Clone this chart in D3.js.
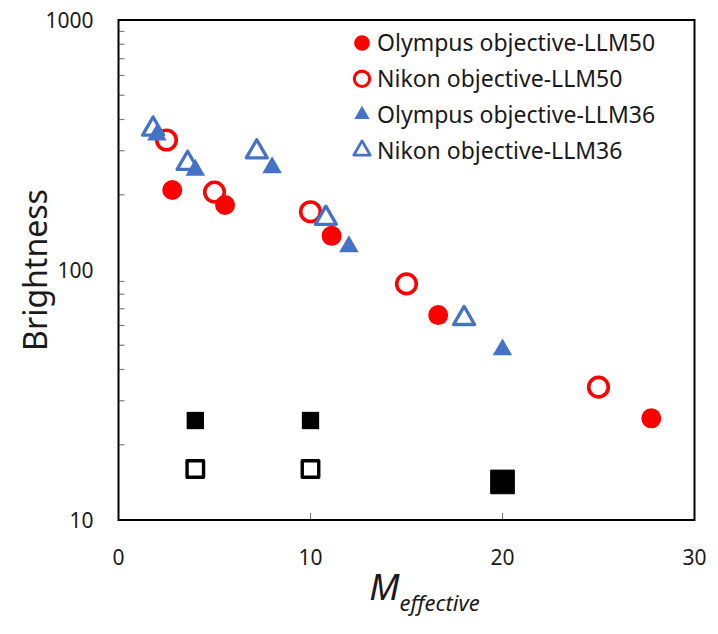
<!DOCTYPE html>
<html>
<head>
<meta charset="utf-8">
<script src="https://cdn.jsdelivr.net/npm/d3@7"></script>
<style>
  body { margin: 0; background: #fff; }
  text { font-family: "Noto Sans", "Open Sans", sans-serif; fill: #1a1a1a; }
</style>
</head>
<body>
<div id="chart"></div>
<script>
// values
var olympus50_x = [2.8, 5.55, 11.1, 16.65, 27.75];
var olympus50_y = [209, 182, 137, 66, 25.5];
var nikon50_x = [2.5, 5, 10, 15, 25];
var nikon50_y = [331, 205, 171, 88, 34];
var olympus36_x = [2, 4, 8, 12, 20];
var olympus36_y = [347, 251, 257, 124, 48];
var nikon36_x = [1.8, 3.6, 7.2, 10.8, 18];
var nikon36_y = [366, 267, 297, 161, 64];
var black_filled_x = [4, 10];
var black_filled_y = [25, 25];
var black_open_x = [4, 10];
var black_open_y = [16, 16];
var black_big_x = [20];
var black_big_y = [14.2];

var legend_labels = ["Olympus objective-LLM50", "Nikon objective-LLM50",
                     "Olympus objective-LLM36", "Nikon objective-LLM36"];
var x_ticks = [0, 10, 20, 30];
var y_ticks = [10, 100, 1000];

var svg_width = 718;
var svg_height = 634;
var margin = { top: 20, right: 23.5, bottom: 114, left: 118.5 };
var width = svg_width - margin.left - margin.right;
var height = svg_height - margin.top - margin.bottom;

var svg = d3.select("#chart")
    .append("svg")
    .attr("width", svg_width)
    .attr("height", svg_height)

var chart = svg.append("g")
    .attr("transform", `translate(${margin.left}, ${margin.top})`)

var x_scale = d3.scaleLinear().domain([0, 30]).range([0, width])
var y_scale = d3.scaleLog().domain([10, 1000]).range([height, 0])

// minor ticks on y (inside), major ticks on x (inside)
var minor = []
;[10, 100].forEach(function(dec) {
    for (var k = 2; k <= 9; k++) minor.push(dec * k)
})
chart.selectAll(".ytick")
    .data(minor)
    .enter()
    .append("line")
    .attr("x1", 0).attr("x2", 6)
    .attr("y1", d => y_scale(d)).attr("y2", d => y_scale(d))
    .attr("stroke", "#7f7f7f")
    .attr("stroke-width", 1.2)

chart.selectAll(".xtick")
    .data(x_ticks.slice(1, 3))
    .enter()
    .append("line")
    .attr("x1", d => x_scale(d)).attr("x2", d => x_scale(d))
    .attr("y1", height).attr("y2", height - 7)
    .attr("stroke", "#7f7f7f")
    .attr("stroke-width", 1.2)

// frame
chart.append("rect")
    .attr("width", width)
    .attr("height", height)
    .attr("fill", "none")
    .attr("stroke", "#000")
    .attr("stroke-width", 2)

// tick labels
chart.selectAll(".xlab")
    .data(x_ticks)
    .enter()
    .append("text")
    .attr("x", d => x_scale(d))
    .attr("y", height + 45)
    .attr("text-anchor", "middle")
    .style("font-size", "21px")
    .text(d => d)

chart.selectAll(".ylab")
    .data(y_ticks)
    .enter()
    .append("text")
    .attr("x", -25)
    .attr("y", d => y_scale(d))
    .attr("dy", "0.36em")
    .attr("text-anchor", "end")
    .style("font-size", "21px")
    .text(d => d)

// axis titles
svg.append("text")
    .attr("transform", `translate(47, ${margin.top + height / 2}) rotate(-90)`)
    .attr("text-anchor", "middle")
    .style("font-size", "32px")
    .text("Brightness")

var x_title = svg.append("text")
    .attr("x", margin.left + width / 2 + 18)
    .attr("y", 600)
    .attr("text-anchor", "middle")
x_title.append("tspan")
    .style("font-size", "36px")
    .style("font-style", "italic")
    .text("M")
x_title.append("tspan")
    .attr("dy", 11)
    .style("font-size", "22px")
    .style("font-style", "italic")
    .text("effective")

// markers
var series = [
    { xs: olympus50_x, ys: olympus50_y, type: d3.symbolCircle, size: 314, fill: "#ff0000", stroke: "none", sw: 0 },
    { xs: nikon50_x, ys: nikon50_y, type: d3.symbolCircle, size: 300, fill: "none", stroke: "#ff0000", sw: 3.6 },
    { xs: olympus36_x, ys: olympus36_y, type: d3.symbolTriangle, size: 165, fill: "#4472c4", stroke: "none", sw: 0 },
    { xs: nikon36_x, ys: nikon36_y, type: d3.symbolTriangle, size: 190, fill: "none", stroke: "#4472c4", sw: 3.3 },
    { xs: black_filled_x, ys: black_filled_y, type: d3.symbolSquare, size: 300, fill: "#000", stroke: "none", sw: 0 },
    { xs: black_open_x, ys: black_open_y, type: d3.symbolSquare, size: 272, fill: "none", stroke: "#000", sw: 3.4 },
    { xs: black_big_x, ys: black_big_y, type: d3.symbolSquare, size: 560, fill: "#000", stroke: "#000", sw: 1 }
]

series.forEach(function(s) {
    var pts = s.xs.map((v, i) => ({ x: v, y: s.ys[i] }))
    chart.append("g")
        .selectAll("path")
        .data(pts)
        .enter()
        .append("path")
        .attr("d", d3.symbol().type(s.type).size(s.size))
        .attr("transform", d => `translate(${x_scale(d.x)}, ${y_scale(d.y)})`)
        .attr("fill", s.fill)
        .attr("stroke", s.stroke)
        .attr("stroke-width", s.sw)
        .attr("stroke-linejoin", "round")
})

// legend
var legend_series = series.slice(0, 4)
var legend = svg.append("g")
    .attr("transform", "translate(362, 43)")

legend_labels.forEach(function(label, i) {
    var s = legend_series[i]
    var row = legend.append("g").attr("transform", `translate(0, ${i * 35.8})`)
    row.append("path")
        .attr("d", d3.symbol().type(s.type).size(s.size * 0.62))
        .attr("fill", s.fill)
        .attr("stroke", s.stroke)
        .attr("stroke-width", s.sw * 0.85)
        .attr("stroke-linejoin", "round")
    row.append("text")
        .attr("x", 15)
        .attr("dy", "0.36em")
        .style("font-size", "23px")
        .text(label)
})
</script>
</body>
</html>
